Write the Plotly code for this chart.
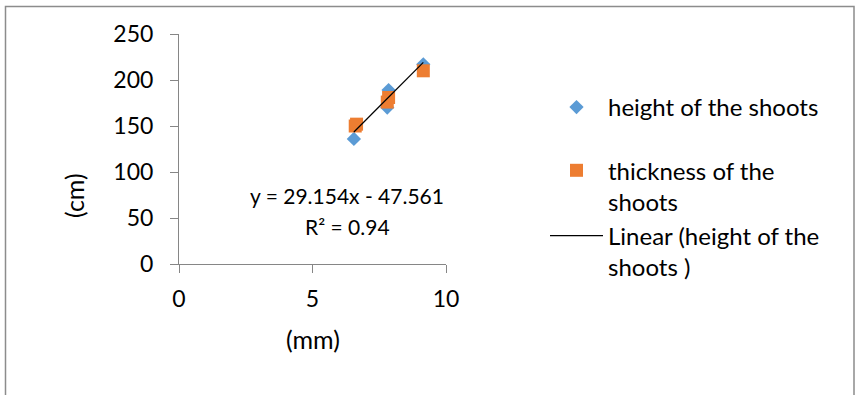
import plotly.graph_objects as go

# Shoot measurements: thickness (mm) on x, values (cm) on y
height_x = [6.55, 7.8, 7.85, 9.15]
height_y = [136, 170, 189, 217]

thickness_x = [6.6, 6.65, 7.8, 7.85, 9.15]
thickness_y = [150, 152, 176, 181, 210]

# Linear trend fitted to the height series
slope = 29.154
intercept = -47.561
r_squared = 0.94
trend_x = [min(height_x), max(height_x)]
trend_y = [slope * x + intercept for x in trend_x]

x_ticks = [0, 5, 10]
y_ticks = [0, 50, 100, 150, 200, 250]

FONT = "Lato"
AXIS_GRAY = "#868686"

# plot area in pixels: x 179..446, y 34..264
PX_L, PX_R, PX_T, PX_B = 179, 446, 34, 264


def paper_x(px):
    return (px - PX_L) / (PX_R - PX_L)


def paper_y(py):
    return (PX_B - py) / (PX_B - PX_T)


fig = go.Figure()
fig.add_trace(go.Scatter(
    x=height_x, y=height_y, mode="markers", name="height of the shoots",
    legendgroup="a",
    marker=dict(symbol="diamond", size=11, color="#5B9BD5"),
))
fig.add_trace(go.Scatter(
    x=thickness_x, y=thickness_y, mode="markers", name="thickness of the<br>shoots",
    legendgroup="b",
    marker=dict(symbol="square", size=13, color="#ED7D31"),
))
fig.add_trace(go.Scatter(
    x=trend_x, y=trend_y, mode="lines", name="Linear (height of the<br>shoots )",
    legendgroup="b",
    line=dict(color="black", width=1.3),
))

fig.update_layout(
    width=855, height=395,
    margin=dict(l=PX_L, r=855 - PX_R, t=PX_T, b=395 - PX_B),
    paper_bgcolor="white", plot_bgcolor="white",
    font=dict(family=FONT, size=23, color="black"),
    showlegend=True,
    legend=dict(
        x=paper_x(545), xanchor="left",
        y=paper_y(85), yanchor="top",
        font=dict(family=FONT, size=24, color="black"),
        traceorder="grouped", tracegroupgap=29, valign="top",
        bgcolor="rgba(0,0,0,0)", itemwidth=53,
    ),
    xaxis=dict(
        range=[0, 10], tickvals=x_ticks, showgrid=False, zeroline=False,
        showline=True, linecolor=AXIS_GRAY, linewidth=1,
        ticks="outside", ticklen=8, tickcolor=AXIS_GRAY,
        ticklabelstandoff=6,
        tickfont=dict(family=FONT, size=23),
    ),
    yaxis=dict(
        range=[0, 250], tickvals=y_ticks, showgrid=False, zeroline=False,
        showline=True, linecolor=AXIS_GRAY, linewidth=1,
        ticks="outside", ticklen=8, tickcolor=AXIS_GRAY,
        ticklabelstandoff=12,
        tickfont=dict(family=FONT, size=23),
    ),
)

# Axis titles
fig.add_annotation(text="(mm)", xref="paper", yref="paper",
                   x=paper_x(313), y=paper_y(339),
                   xanchor="center", yanchor="middle",
                   showarrow=False, font=dict(family=FONT, size=25))
fig.add_annotation(text="(cm)", xref="paper", yref="paper",
                   x=paper_x(74), y=paper_y(196), textangle=-90,
                   xanchor="center", yanchor="middle",
                   showarrow=False, font=dict(family=FONT, size=25))

# Trend line equation and fit quality
fig.add_annotation(
    text=f"y = {slope}x - {abs(intercept)}",
    xref="paper", yref="paper", x=paper_x(347), y=paper_y(196),
    xanchor="center", yanchor="middle",
    showarrow=False, font=dict(family=FONT, size=21),
)
fig.add_annotation(
    text=f"R² = {r_squared}",
    xref="paper", yref="paper", x=paper_x(347), y=paper_y(226),
    xanchor="center", yanchor="middle",
    showarrow=False, font=dict(family=FONT, size=21),
)

# Chart area border
fig.add_shape(type="rect", xref="paper", yref="paper",
              x0=paper_x(5.5), x1=paper_x(854),
              y0=paper_y(6.5), y1=paper_y(410),
              line=dict(color="#8c8c8c", width=1.5), layer="below")

fig.write_html("out.html")
